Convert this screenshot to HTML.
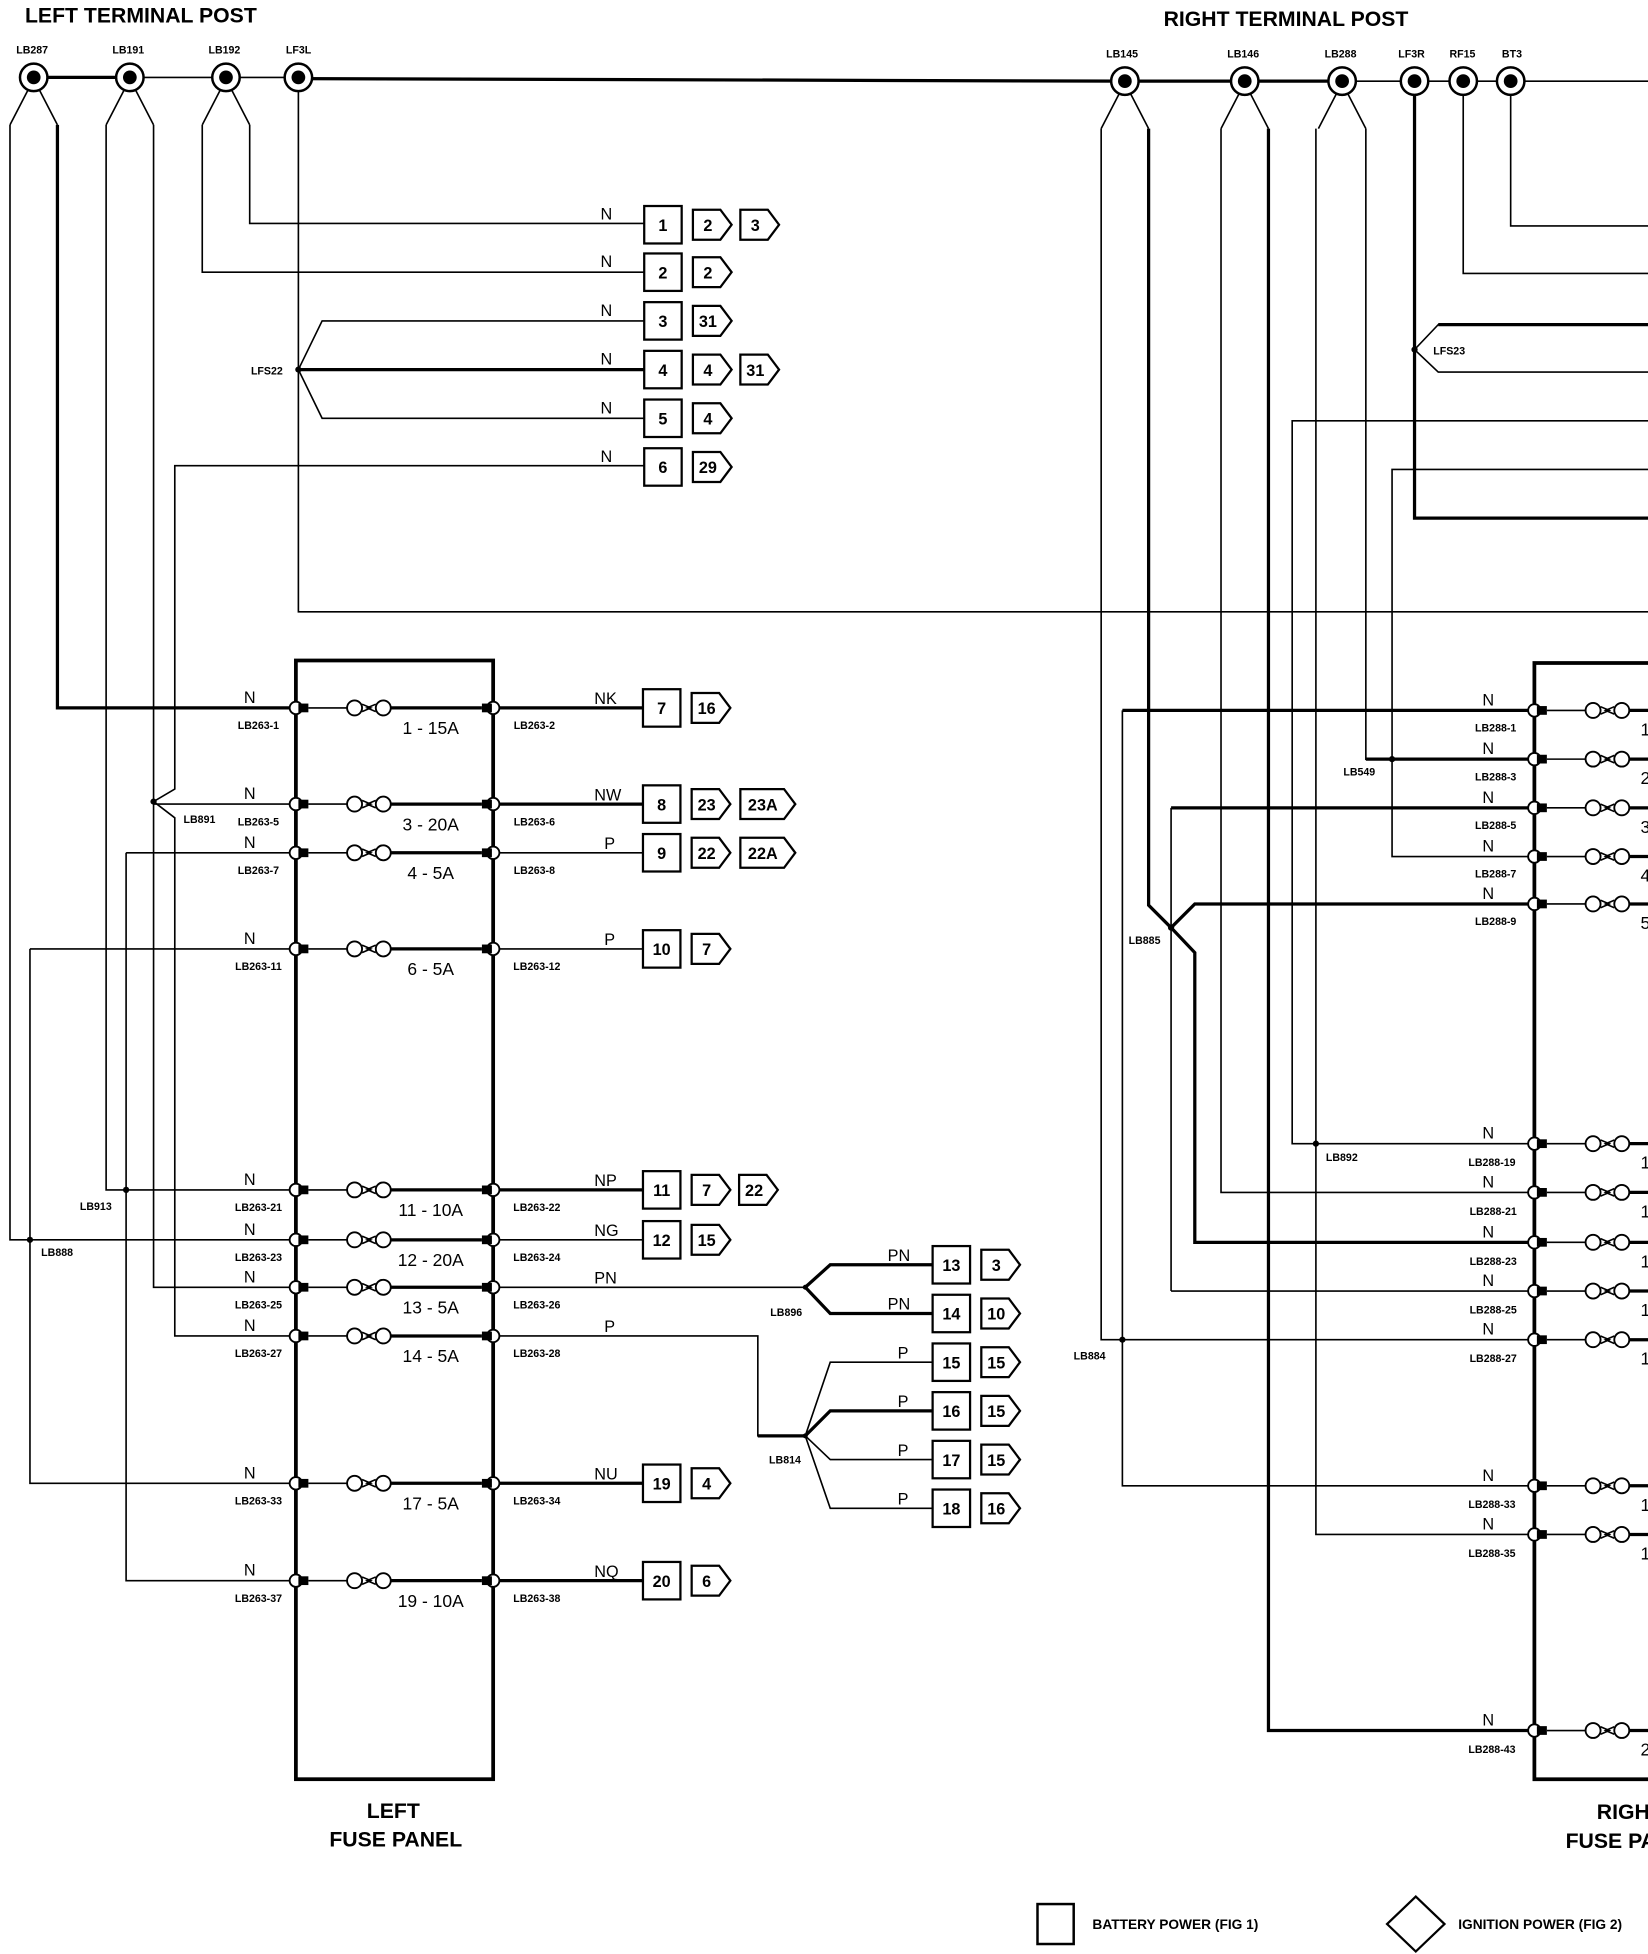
<!DOCTYPE html>
<html><head><meta charset="utf-8"><style>
html,body{margin:0;padding:0;background:#fff}
svg{display:block}
text{font-family:"Liberation Sans",sans-serif;font-weight:bold;fill:#000}
.s{font-size:8.5px}
.n{font-size:13px;font-weight:normal}
.b{font-size:13px}
.f{font-size:14px;font-weight:normal}
.t{font-size:17px}
line,polyline,path{stroke:#000;fill:none;stroke-width:1.3}
.k{stroke-width:2.6}
</style></head><body>
<svg width="1648" height="1954" viewBox="0 0 1320 1565" preserveAspectRatio="none" xmlns="http://www.w3.org/2000/svg">
<defs>
<g id="post"><circle cx="0" cy="0" r="11" fill="#fff" stroke="#000" stroke-width="2"/><circle cx="0" cy="0" r="5.5" fill="#000"/></g>
<g id="br"><polyline points="-4,9 -19,38"/><polyline points="4,9 19,38"/></g>
<g id="fz">
<circle cx="237" cy="0" r="5" fill="#fff" stroke="#000" stroke-width="1.5"/>
<circle cx="395" cy="0" r="5" fill="#fff" stroke="#000" stroke-width="1.5"/>
<rect x="239" y="-3.5" width="8" height="7" fill="#000"/>
<rect x="386" y="-3.5" width="8" height="7" fill="#000"/>
<line x1="247" y1="0" x2="278" y2="0"/>
<circle cx="284" cy="0" r="6" fill="#fff" stroke="#000" stroke-width="1.5"/>
<polyline points="290,-3 297,0 290,3"/>
<polyline points="301,-3 294,0 301,3"/>
<circle cx="307" cy="0" r="6" fill="#fff" stroke="#000" stroke-width="1.5"/>
<line x1="313" y1="0" x2="386" y2="0" class="k"/>
</g>
</defs>

<text x="20" y="18" class="t">LEFT TERMINAL POST</text>
<text x="932" y="21" class="t">RIGHT TERMINAL POST</text>
<text x="13" y="43" class="s">LB287</text><text x="90" y="43" class="s">LB191</text><text x="167" y="43" class="s">LB192</text><text x="229" y="43" class="s">LF3L</text>
<text x="886" y="46" class="s">LB145</text><text x="983" y="46" class="s">LB146</text><text x="1061" y="46" class="s">LB288</text><text x="1120" y="46" class="s">LF3R</text><text x="1161" y="46" class="s">RF15</text><text x="1203" y="46" class="s">BT3</text>

<line x1="27" y1="62" x2="104" y2="62" class="k"/>
<line x1="104" y1="62" x2="239" y2="62"/>
<line x1="239" y1="63" x2="901" y2="65" class="k"/>
<line x1="901" y1="65" x2="1075" y2="65" class="k"/>
<line x1="1075" y1="65" x2="1320" y2="65"/>

<use href="#br" x="27" y="62"/><use href="#br" x="104" y="62"/><use href="#br" x="181" y="62"/>
<use href="#br" x="901" y="65"/><use href="#br" x="997" y="65"/><use href="#br" x="1075" y="65"/>

<polyline points="8,100 8,993 237,993"/>
<polyline points="46,100 46,567 237,567" class="k"/>
<polyline points="85,100 85,953 237,953"/>
<polyline points="101,683 101,1266 237,1266"/>
<line x1="101" y1="683" x2="237" y2="683"/>
<polyline points="24,760 24,1188 237,1188"/>
<line x1="24" y1="760" x2="237" y2="760"/>
<polyline points="123,100 123,1031 237,1031" />
<line x1="123" y1="644" x2="237" y2="644"/>
<polyline points="516,373 140,373 140,632 123,642 140,655 140,1070 237,1070"/>
<polyline points="162,100 162,218 516,218"/>
<polyline points="200,100 200,179 516,179"/>
<polyline points="239,73 239,490 1320,490"/>
<polyline points="516,257 258,257 239,296 258,335 516,335"/>
<line x1="239" y1="296" x2="516" y2="296" class="k"/>
<circle cx="239" cy="296" r="2.5" fill="#000"/><text x="201" y="300" class="s">LFS22</text>
<circle cx="123" cy="642" r="2.5" fill="#000"/><text x="147" y="659" class="s">LB891</text>
<circle cx="101" cy="953" r="2.5" fill="#000"/><text x="64" y="969" class="s">LB913</text>
<circle cx="24" cy="993" r="2.5" fill="#000"/><text x="33" y="1006" class="s">LB888</text>

<use href="#post" x="27" y="62"/><use href="#post" x="104" y="62"/><use href="#post" x="181" y="62"/><use href="#post" x="239" y="62"/>
<use href="#post" x="901" y="65"/><use href="#post" x="997" y="65"/><use href="#post" x="1075" y="65"/><use href="#post" x="1133" y="65"/><use href="#post" x="1172" y="65"/><use href="#post" x="1210" y="65"/>

<g>
<text x="481" y="176" class="n">N</text><text x="481" y="214" class="n">N</text><text x="481" y="253" class="n">N</text><text x="481" y="292" class="n">N</text><text x="481" y="331" class="n">N</text><text x="481" y="370" class="n">N</text>
</g>
<g stroke="#000" stroke-width="1.8" fill="#fff">
<rect x="516" y="165" width="30" height="30"/><rect x="516" y="203" width="30" height="30"/><rect x="516" y="242" width="30" height="30"/><rect x="516" y="281" width="30" height="30"/><rect x="516" y="320" width="30" height="30"/><rect x="516" y="359" width="30" height="30"/>
<polygon points="555,168 577,168 586,180 577,192 555,192"/><polygon points="593,168 615,168 624,180 615,192 593,192"/>
<polygon points="555,206 577,206 586,218 577,230 555,230"/>
<polygon points="555,245 577,245 586,257 577,269 555,269"/>
<polygon points="555,284 577,284 586,296 577,308 555,308"/><polygon points="593,284 615,284 624,296 615,308 593,308"/>
<polygon points="555,323 577,323 586,335 577,347 555,347"/>
<polygon points="555,362 577,362 586,374 577,386 555,386"/>
</g>
<g class="b" text-anchor="middle">
<text x="531" y="185" class="b">1</text><text x="567" y="185" class="b">2</text><text x="605" y="185" class="b">3</text>
<text x="531" y="223" class="b">2</text><text x="567" y="223" class="b">2</text>
<text x="531" y="262" class="b">3</text><text x="567" y="262" class="b">31</text>
<text x="531" y="301" class="b">4</text><text x="567" y="301" class="b">4</text><text x="605" y="301" class="b">31</text>
<text x="531" y="340" class="b">5</text><text x="567" y="340" class="b">4</text>
<text x="531" y="379" class="b">6</text><text x="567" y="379" class="b">29</text>
</g>

<rect x="237" y="529" width="158" height="896" fill="none" stroke="#000" stroke-width="3"/>
<use href="#fz" y="567"/><use href="#fz" y="644"/><use href="#fz" y="683"/><use href="#fz" y="760"/><use href="#fz" y="953"/><use href="#fz" y="993"/><use href="#fz" y="1031"/><use href="#fz" y="1070"/><use href="#fz" y="1188"/><use href="#fz" y="1266"/>
<g text-anchor="middle">
<text x="345" y="588" class="f">1 - 15A</text><text x="345" y="665" class="f">3 - 20A</text><text x="345" y="704" class="f">4 - 5A</text><text x="345" y="781" class="f">6 - 5A</text><text x="345" y="974" class="f">11 - 10A</text><text x="345" y="1014" class="f">12 - 20A</text><text x="345" y="1052" class="f">13 - 5A</text><text x="345" y="1091" class="f">14 - 5A</text><text x="345" y="1209" class="f">17 - 5A</text><text x="345" y="1287" class="f">19 - 10A</text>
<text x="207" y="584" class="s">LB263-1</text><text x="207" y="661" class="s">LB263-5</text><text x="207" y="700" class="s">LB263-7</text><text x="207" y="777" class="s">LB263-11</text><text x="207" y="970" class="s">LB263-21</text><text x="207" y="1010" class="s">LB263-23</text><text x="207" y="1048" class="s">LB263-25</text><text x="207" y="1087" class="s">LB263-27</text><text x="207" y="1205" class="s">LB263-33</text><text x="207" y="1283" class="s">LB263-37</text>
<text x="428" y="584" class="s">LB263-2</text><text x="428" y="661" class="s">LB263-6</text><text x="428" y="700" class="s">LB263-8</text><text x="430" y="777" class="s">LB263-12</text><text x="430" y="970" class="s">LB263-22</text><text x="430" y="1010" class="s">LB263-24</text><text x="430" y="1048" class="s">LB263-26</text><text x="430" y="1087" class="s">LB263-28</text><text x="430" y="1205" class="s">LB263-34</text><text x="430" y="1283" class="s">LB263-38</text>
<text x="200" y="563" class="n">N</text><text x="200" y="640" class="n">N</text><text x="200" y="679" class="n">N</text><text x="200" y="756" class="n">N</text><text x="200" y="949" class="n">N</text><text x="200" y="989" class="n">N</text><text x="200" y="1027" class="n">N</text><text x="200" y="1066" class="n">N</text><text x="200" y="1184" class="n">N</text><text x="200" y="1262" class="n">N</text>
<text x="315" y="1456" class="t">LEFT</text><text x="317" y="1479" class="t">FUSE PANEL</text>
</g>

<line x1="400" y1="567" x2="515" y2="567" class="k"/><line x1="400" y1="644" x2="515" y2="644" class="k"/><line x1="400" y1="683" x2="515" y2="683"/><line x1="400" y1="760" x2="515" y2="760"/><line x1="400" y1="953" x2="515" y2="953" class="k"/><line x1="400" y1="993" x2="515" y2="993"/><line x1="400" y1="1188" x2="515" y2="1188" class="k"/><line x1="400" y1="1266" x2="515" y2="1266" class="k"/>
<polyline points="400,1031 645,1031"/><polyline points="747,1013 665,1013 645,1031 665,1052 747,1052" class="k"/>
<polyline points="400,1070 607,1070 607,1150 645,1150" /><line x1="607" y1="1150" x2="645" y2="1150" class="k"/>
<polyline points="747,1091 665,1091 645,1150 665,1208 747,1208"/>
<polyline points="747,1130 665,1130 645,1150" class="k"/>
<polyline points="747,1169 665,1169 645,1150"/>
<circle cx="645" cy="1031" r="2" fill="#000"/><circle cx="645" cy="1150" r="2" fill="#000"/>
<text x="617" y="1054" class="s">LB896</text><text x="616" y="1172" class="s">LB814</text>
<g class="n">
<text x="476" y="564" class="n">NK</text><text x="476" y="641" class="n">NW</text><text x="484" y="680" class="n">P</text><text x="484" y="757" class="n">P</text><text x="476" y="950" class="n">NP</text><text x="476" y="990" class="n">NG</text><text x="476" y="1028" class="n">PN</text><text x="484" y="1067" class="n">P</text><text x="476" y="1185" class="n">NU</text><text x="476" y="1263" class="n">NQ</text>
<text x="711" y="1010" class="n">PN</text><text x="711" y="1049" class="n">PN</text><text x="719" y="1088" class="n">P</text><text x="719" y="1127" class="n">P</text><text x="719" y="1166" class="n">P</text><text x="719" y="1205" class="n">P</text>
</g>
<g stroke="#000" stroke-width="1.8" fill="#fff">
<rect x="515" y="552" width="30" height="30"/><polygon points="554,555 576,555 585,567 576,579 554,579"/>
<rect x="515" y="629" width="30" height="30"/><polygon points="554,632 576,632 585,644 576,656 554,656"/><polygon points="593,632 628,632 637,644 628,656 593,656"/>
<rect x="515" y="668" width="30" height="30"/><polygon points="554,671 576,671 585,683 576,695 554,695"/><polygon points="593,671 628,671 637,683 628,695 593,695"/>
<rect x="515" y="745" width="30" height="30"/><polygon points="554,748 576,748 585,760 576,772 554,772"/>
<rect x="515" y="938" width="30" height="30"/><polygon points="554,941 576,941 585,953 576,965 554,965"/><polygon points="592,941 614,941 623,953 614,965 592,965"/>
<rect x="515" y="978" width="30" height="30"/><polygon points="554,981 576,981 585,993 576,1005 554,1005"/>
<rect x="515" y="1173" width="30" height="30"/><polygon points="554,1176 576,1176 585,1188 576,1200 554,1200"/>
<rect x="515" y="1251" width="30" height="30"/><polygon points="554,1254 576,1254 585,1266 576,1278 554,1278"/>
<rect x="747" y="998" width="30" height="30"/><polygon points="786,1001 808,1001 817,1013 808,1025 786,1025"/>
<rect x="747" y="1037" width="30" height="30"/><polygon points="786,1040 808,1040 817,1052 808,1064 786,1064"/>
<rect x="747" y="1076" width="30" height="30"/><polygon points="786,1079 808,1079 817,1091 808,1103 786,1103"/>
<rect x="747" y="1115" width="30" height="30"/><polygon points="786,1118 808,1118 817,1130 808,1142 786,1142"/>
<rect x="747" y="1154" width="30" height="30"/><polygon points="786,1157 808,1157 817,1169 808,1181 786,1181"/>
<rect x="747" y="1193" width="30" height="30"/><polygon points="786,1196 808,1196 817,1208 808,1220 786,1220"/>
</g>
<g text-anchor="middle">
<text x="530" y="572" class="b">7</text><text x="566" y="572" class="b">16</text>
<text x="530" y="649" class="b">8</text><text x="566" y="649" class="b">23</text><text x="611" y="649" class="b">23A</text>
<text x="530" y="688" class="b">9</text><text x="566" y="688" class="b">22</text><text x="611" y="688" class="b">22A</text>
<text x="530" y="765" class="b">10</text><text x="566" y="765" class="b">7</text>
<text x="530" y="958" class="b">11</text><text x="566" y="958" class="b">7</text><text x="604" y="958" class="b">22</text>
<text x="530" y="998" class="b">12</text><text x="566" y="998" class="b">15</text>
<text x="530" y="1193" class="b">19</text><text x="566" y="1193" class="b">4</text>
<text x="530" y="1271" class="b">20</text><text x="566" y="1271" class="b">6</text>
<text x="762" y="1018" class="b">13</text><text x="798" y="1018" class="b">3</text>
<text x="762" y="1057" class="b">14</text><text x="798" y="1057" class="b">10</text>
<text x="762" y="1096" class="b">15</text><text x="798" y="1096" class="b">15</text>
<text x="762" y="1135" class="b">16</text><text x="798" y="1135" class="b">15</text>
<text x="762" y="1174" class="b">17</text><text x="798" y="1174" class="b">15</text>
<text x="762" y="1213" class="b">18</text><text x="798" y="1213" class="b">16</text>
</g>

<polyline points="882,103 882,1073 1229,1073"/>
<polyline points="899,569 899,1190 1229,1190"/>
<line x1="899" y1="569" x2="1229" y2="569" class="k"/>
<polyline points="920,103 920,725 938,743 957,763 957,995 1229,995" class="k"/>
<line x1="938" y1="647" x2="938" y2="1034"/><line x1="938" y1="1034" x2="1229" y2="1034"/>
<line x1="938" y1="647" x2="1229" y2="647" class="k"/>
<polyline points="938,743 957,724 1229,724" class="k"/>
<polyline points="978,103 978,955 1229,955"/>
<polyline points="1016,103 1016,1386 1229,1386" class="k"/>
<polyline points="1054,103 1054,1229 1229,1229"/>
<polyline points="1320,337 1035,337 1035,916 1229,916"/>
<polyline points="1094,103 1094,608 1229,608"/><line x1="1094" y1="608" x2="1229" y2="608" class="k"/>
<polyline points="1320,376 1115,376 1115,686 1229,686"/>
<polyline points="1133,76 1133,415 1320,415" class="k"/>
<polyline points="1320,260 1152,260 1133,280 1152,298 1320,298"/>
<line x1="1152" y1="260" x2="1320" y2="260" class="k"/>
<polyline points="1172,76 1172,219 1320,219"/>
<polyline points="1210,76 1210,181 1320,181"/>
<circle cx="1133" cy="280" r="2.5" fill="#000"/><text x="1148" y="284" class="s">LFS23</text>
<circle cx="1115" cy="608" r="2.5" fill="#000"/><text x="1076" y="621" class="s">LB549</text>
<circle cx="938" cy="743" r="2.5" fill="#000"/><text x="904" y="756" class="s">LB885</text>
<circle cx="1054" cy="916" r="2.5" fill="#000"/><text x="1062" y="930" class="s">LB892</text>
<circle cx="899" cy="1073" r="2.5" fill="#000"/><text x="860" y="1089" class="s">LB884</text>

<polyline points="1320,531 1229,531 1229,1425 1320,1425" style="stroke-width:3"/>
<g transform="translate(992,0)">
<use href="#fz" y="569"/><use href="#fz" y="608"/><use href="#fz" y="647"/><use href="#fz" y="686"/><use href="#fz" y="724"/><use href="#fz" y="916"/><use href="#fz" y="955"/><use href="#fz" y="995"/><use href="#fz" y="1034"/><use href="#fz" y="1073"/><use href="#fz" y="1190"/><use href="#fz" y="1229"/><use href="#fz" y="1386"/>
</g>
<g text-anchor="middle">
<text x="1192" y="565" class="n">N</text><text x="1192" y="604" class="n">N</text><text x="1192" y="643" class="n">N</text><text x="1192" y="682" class="n">N</text><text x="1192" y="720" class="n">N</text><text x="1192" y="912" class="n">N</text><text x="1192" y="951" class="n">N</text><text x="1192" y="991" class="n">N</text><text x="1192" y="1030" class="n">N</text><text x="1192" y="1069" class="n">N</text><text x="1192" y="1186" class="n">N</text><text x="1192" y="1225" class="n">N</text><text x="1192" y="1382" class="n">N</text>
<text x="1198" y="586" class="s">LB288-1</text><text x="1198" y="625" class="s">LB288-3</text><text x="1198" y="664" class="s">LB288-5</text><text x="1198" y="703" class="s">LB288-7</text><text x="1198" y="741" class="s">LB288-9</text><text x="1195" y="934" class="s">LB288-19</text><text x="1196" y="973" class="s">LB288-21</text><text x="1196" y="1013" class="s">LB288-23</text><text x="1196" y="1052" class="s">LB288-25</text><text x="1196" y="1091" class="s">LB288-27</text><text x="1195" y="1208" class="s">LB288-33</text><text x="1195" y="1247" class="s">LB288-35</text><text x="1195" y="1404" class="s">LB288-43</text>
</g>
<g class="f">
<text x="1314" y="589" class="f">1</text><text x="1314" y="628" class="f">2</text><text x="1314" y="667" class="f">3</text><text x="1314" y="706" class="f">4</text><text x="1314" y="744" class="f">5</text><text x="1314" y="936" class="f">1</text><text x="1314" y="975" class="f">1</text><text x="1314" y="1015" class="f">1</text><text x="1314" y="1054" class="f">1</text><text x="1314" y="1093" class="f">1</text><text x="1314" y="1210" class="f">1</text><text x="1314" y="1249" class="f">1</text><text x="1314" y="1406" class="f">2</text>
</g>
<text x="1279" y="1457" class="t">RIGHT</text><text x="1254" y="1480" class="t">FUSE PANEL</text>

<rect x="831" y="1525" width="29" height="32" fill="none" stroke="#000" stroke-width="2"/>
<text x="875" y="1545" style="font-size:11px">BATTERY POWER (FIG 1)</text>
<polygon points="1134,1519 1157,1541 1134,1563 1111,1541" fill="none" stroke="#000" stroke-width="1.8"/>
<text x="1168" y="1545" style="font-size:11px">IGNITION POWER (FIG 2)</text>
</svg>
</body></html>
